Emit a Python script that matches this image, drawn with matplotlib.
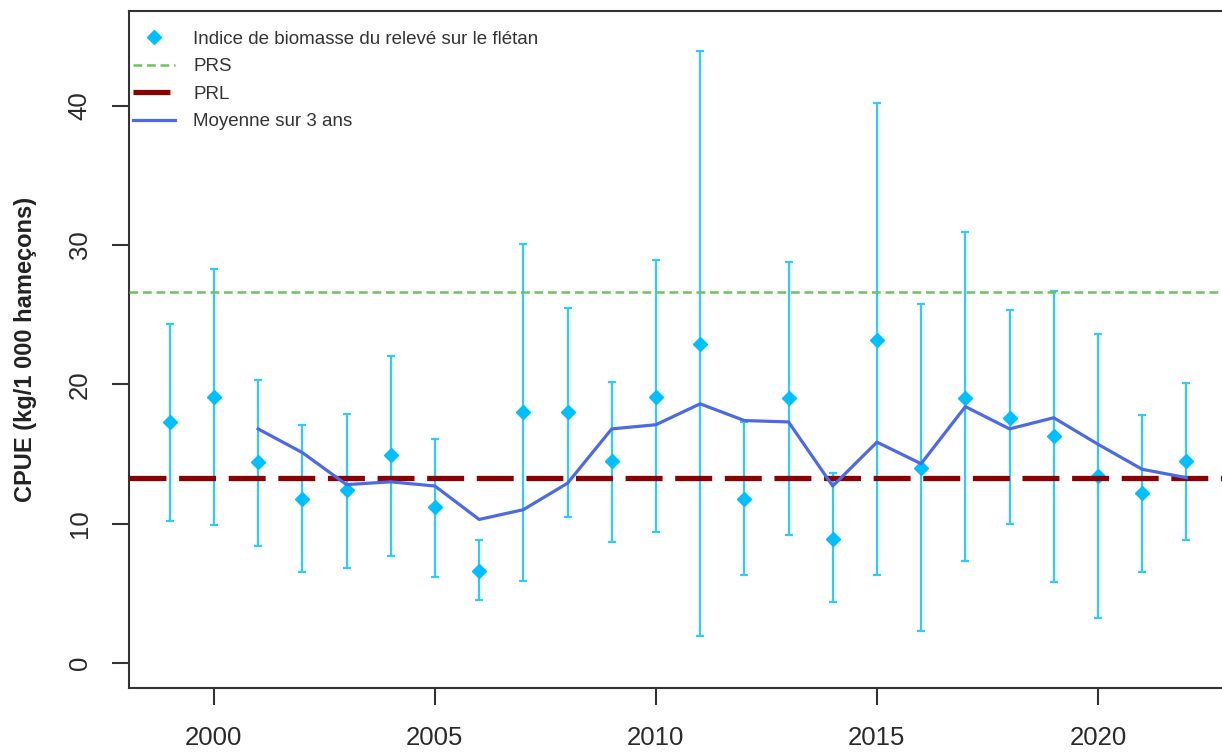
import matplotlib
matplotlib.use('Agg')
import matplotlib.pyplot as plt
import numpy as np

# data
years = list(range(1999, 2023))
cpue = [17.3, 19.1, 14.4, 11.8, 12.4, 14.9, 11.2, 6.6, 18.0, 18.0, 14.5, 19.1,
        22.9, 11.8, 19.0, 8.9, 23.2, 14.0, 19.0, 17.6, 16.3, 13.4, 12.2, 14.5]
cpue_low = [10.2, 9.9, 8.4, 6.5, 6.8, 7.7, 6.2, 4.5, 5.9, 10.5, 8.7, 9.4,
            1.9, 6.3, 9.2, 4.4, 6.3, 2.3, 7.3, 10.0, 5.8, 3.2, 6.5, 8.8]
cpue_high = [24.3, 28.3, 20.3, 17.1, 17.9, 22.0, 16.1, 8.8, 30.1, 25.5, 20.2, 28.9,
             43.9, 17.3, 28.8, 13.6, 40.2, 25.8, 30.9, 25.3, 26.7, 23.6, 17.8, 20.1]
mean_years = list(range(2001, 2023))
mean_3yr = [16.8, 15.1, 12.8, 13.0, 12.7, 10.3, 11.0, 12.9, 16.8, 17.1, 18.6,
            17.4, 17.3, 12.7, 15.85, 14.3, 18.4, 16.8, 17.6, 15.7, 13.9, 13.3]
prs = 26.6
prl = 13.3
x_ticks = [2000, 2005, 2010, 2015, 2020]
y_ticks = [0, 10, 20, 30, 40]

plt.rcParams['font.family'] = ['Liberation Sans', 'DejaVu Sans']

fig = plt.figure(figsize=(12.22, 7.52), dpi=100)
# right edge of the box sits just past the picture, as in the original
ax = fig.add_axes([0.1056, 0.0851, 0.8985, 0.9003])

cpue_a = np.array(cpue)
yerr = [cpue_a - np.array(cpue_low), np.array(cpue_high) - cpue_a]
ax.errorbar(years, cpue, yerr=yerr, fmt='none', ecolor='#2ECBFF',
            elinewidth=1.6, capsize=3, capthick=1.6, zorder=2)
ax.plot(years, cpue, 'D', color='#00BFFF', ms=7, ls='none', zorder=3,
        label='Indice de biomasse du relevé sur le flétan')

ax.axhline(prs, color='#6DC35F', lw=1.8, ls=(0, (3.5, 1.9)), zorder=4, label='PRS')
ax.axhline(prl, color='#8B0000', lw=3.8, ls=(0, (7, 2.4)), zorder=4, label='PRL')
ax.plot(mean_years, mean_3yr, color='#4D6AE3', lw=2.3, zorder=5,
        label='Moyenne sur 3 ans')

ax.set_xlim(1998.08, 2022.92)
ax.set_ylim(-1.8, 46.8)
ax.set_xticks(x_ticks)
ax.set_yticks(y_ticks)
ax.tick_params(axis='both', length=12, width=1.5, labelsize=18.5,
               color='#333333', labelcolor='#2a2a2a', pad=15)
plt.setp(ax.get_yticklabels(), rotation=90, va='center')

for side in ['left', 'bottom', 'top']:
    ax.spines[side].set_linewidth(1.5)
    ax.spines[side].set_color('#333333')
ax.spines['right'].set_visible(False)

ax.set_ylabel('CPUE (kg/1 000 hameçons)', fontsize=17, fontweight='bold', color='#222222')
ax.yaxis.set_label_coords(-0.084, 0.5)

leg = ax.legend(loc='upper left', bbox_to_anchor=(0.1015, 0.972),
                bbox_transform=fig.transFigure, frameon=False, fontsize=13.5,
                handlelength=2.2, handletextpad=1.0, borderpad=0,
                labelspacing=0.56, numpoints=1)
for t in leg.get_texts():
    t.set_color('#333333')

fig.savefig('out.png', dpi=100)
